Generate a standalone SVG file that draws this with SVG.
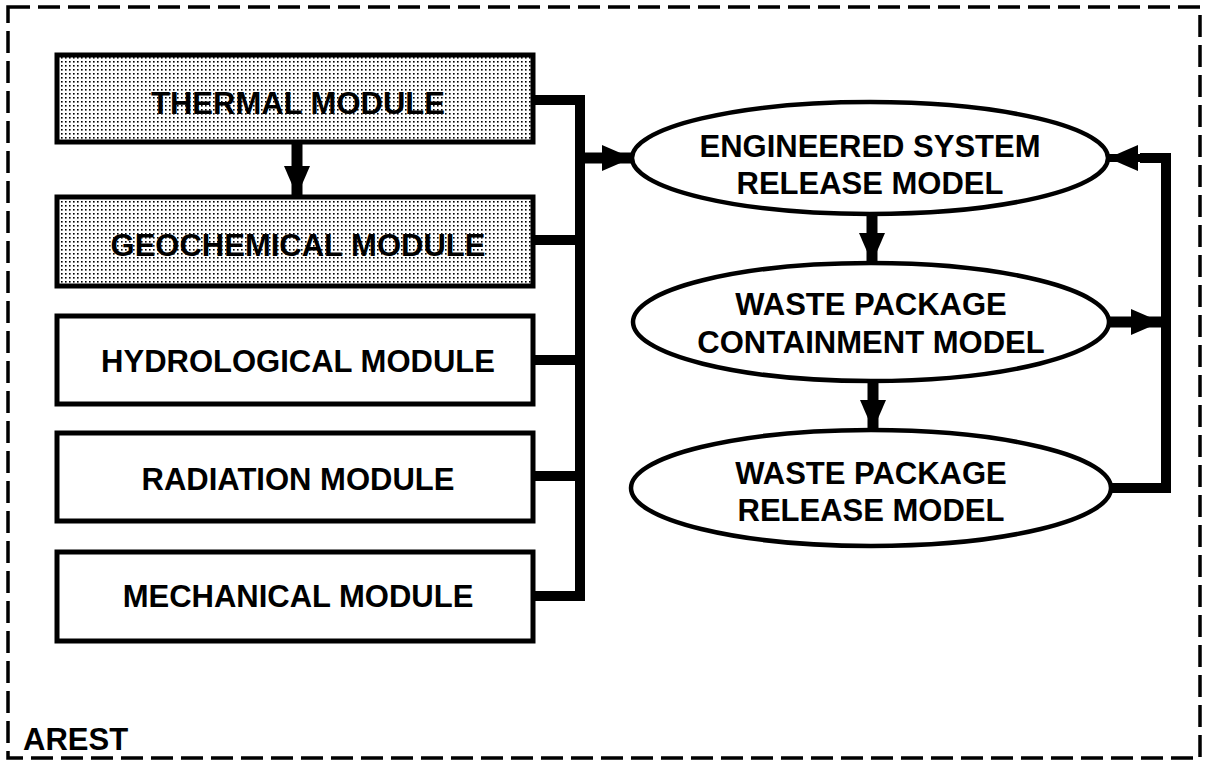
<svg xmlns="http://www.w3.org/2000/svg" width="1208" height="762" viewBox="0 0 1208 762">
  <defs>
    <!-- stipple screen for the shaded modules -->
    <pattern id="dots" width="4" height="4" patternUnits="userSpaceOnUse">
      <rect width="4" height="4" fill="#ffffff"/>
      <rect x="1" y="1" width="1.6" height="1.6" fill="#000000"/>
    </pattern>
    <marker id="head" viewBox="0 0 30 26" refX="30" refY="13" markerWidth="30" markerHeight="26" markerUnits="userSpaceOnUse" orient="auto">
      <path d="M0,0 L30,13 L0,26 Z" fill="#000"/>
    </marker>
  </defs>
  <style>
    .box { fill: #ffffff; stroke: #000; stroke-width: 5; }
    .shaded { fill: url(#dots); stroke: #000; stroke-width: 5; }
    .oval { fill: #ffffff; stroke: #000; stroke-width: 4.5; }
    .lbl { font-family: "Liberation Sans", Arial, Helvetica, sans-serif; font-weight: bold; font-size: 31px; fill: #000; text-anchor: middle; }
    .wire { fill: none; stroke: #000; stroke-width: 10; stroke-linejoin: miter; stroke-linecap: butt; }
    .arrow { fill: none; stroke: #000; stroke-width: 11; marker-end: url(#head); }
    .frame { fill: none; stroke: #000; stroke-width: 3.5; stroke-dasharray: 22 8; }
  </style>

  <rect class="frame" x="8" y="7" width="1192" height="751"/>

  <!-- connectors -->
  <g id="connectors">
    <!-- bus collecting the module outputs -->
    <path class="wire" d="M533,100 H580 V596 H533"/>
    <path class="wire" d="M533,240 H580"/>
    <path class="wire" d="M533,360 H580"/>
    <path class="wire" d="M533,476 H580"/>
    <line class="arrow" x1="578" y1="158" x2="632" y2="158"/>
    <!-- thermal feeds geochemical -->
    <line class="arrow" x1="297" y1="144" x2="297" y2="196"/>
    <!-- model chain -->
    <line class="arrow" x1="872" y1="213" x2="872" y2="263"/>
    <line class="arrow" x1="873" y1="380" x2="873" y2="430"/>
    <!-- feedback loop on the right -->
    <line class="arrow" x1="1108" y1="322" x2="1161" y2="322"/>
    <path class="wire" d="M1110,488 H1166 V158 H1140"/>
    <line class="arrow" x1="1142" y1="158" x2="1108" y2="158" style="stroke-width:8"/>
  </g>

  <g id="thermal">
    <rect class="shaded" x="57" y="55" width="476" height="87"/>
    <text class="lbl" x="298" y="114">THERMAL MODULE</text>
  </g>
  <g id="geochemical">
    <rect class="shaded" x="57" y="197" width="476" height="89"/>
    <text class="lbl" x="298" y="256">GEOCHEMICAL MODULE</text>
  </g>
  <g id="hydrological">
    <rect class="box" x="57" y="316" width="476" height="88"/>
    <text class="lbl" x="298" y="372">HYDROLOGICAL MODULE</text>
  </g>
  <g id="radiation">
    <rect class="box" x="57" y="433" width="476" height="88"/>
    <text class="lbl" x="298" y="490">RADIATION MODULE</text>
  </g>
  <g id="mechanical">
    <rect class="box" x="57" y="552" width="476" height="89"/>
    <text class="lbl" x="298" y="607">MECHANICAL MODULE</text>
  </g>

  <g id="engineered-system">
    <ellipse class="oval" cx="870" cy="158" rx="238" ry="56"/>
    <text class="lbl" x="870" y="157">ENGINEERED SYSTEM</text>
    <text class="lbl" x="870" y="194">RELEASE MODEL</text>
  </g>
  <g id="wp-containment">
    <ellipse class="oval" cx="871" cy="322" rx="238" ry="59"/>
    <text class="lbl" x="871" y="315">WASTE PACKAGE</text>
    <text class="lbl" x="871" y="353">CONTAINMENT MODEL</text>
  </g>
  <g id="wp-release">
    <ellipse class="oval" cx="871" cy="488" rx="240" ry="58"/>
    <text class="lbl" x="871" y="484">WASTE PACKAGE</text>
    <text class="lbl" x="871" y="521">RELEASE MODEL</text>
  </g>

  <g id="label">
    <text x="23" y="750" style="font-family:'Liberation Sans', Arial, sans-serif; font-weight:bold; font-size:31px;">AREST</text>
  </g>
</svg>
